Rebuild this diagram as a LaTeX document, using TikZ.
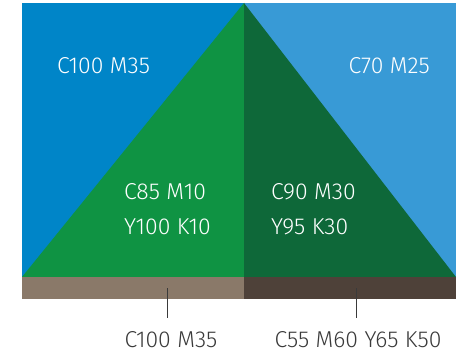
\documentclass[tikz,border=0pt]{standalone}
\usepackage{fontspec}
\setmainfont{Fira Sans}[UprightFont=* Light]
\usetikzlibrary{calc}

\definecolor{skyleft}{HTML}{0085C8}
\definecolor{skyright}{HTML}{389AD6}
\definecolor{hillleft}{HTML}{0F9343}
\definecolor{hillright}{HTML}{0E6839}
\definecolor{soilleft}{HTML}{8A7969}
\definecolor{soilright}{HTML}{4E4139}
\definecolor{capgray}{HTML}{3A3A3A}

\begin{document}
\begin{tikzpicture}[x=1pt,y=-1pt,
    swatch/.style={font=\fontsize{23}{27}\selectfont,text=white,inner sep=0pt},
    caption/.style={swatch,text=capgray}]%
    \useasboundingbox (0,0) rectangle (456,353);%
    % sky
    \fill[skyleft] (22,3) rectangle (244,277);%
    \fill[skyright] (244,3) rectangle (456,277);%
    % hill
    \fill[hillleft] (22,277) -- (244,3) -- (244,277) -- cycle;%
    \fill[hillright] (244,3) -- (456,277) -- (244,277) -- cycle;%
    % ground
    \fill[soilleft] (22,277) rectangle (244,299);%
    \fill[soilright] (244,277) rectangle (456,299);%
    % swatch labels
    \node[swatch,anchor=base west] (skyA) at (57,74) {C100 M35};%
    \node[swatch,anchor=base east] (skyB) at (430,74) {C70 M25};%
    \node[swatch,anchor=base west] (hillA1) at (124,200) {C85 M10};%
    \node[swatch,anchor=base west] (hillA2) at (124,234) {Y100 K10};%
    \node[swatch,anchor=base west] (hillB1) at (271,200) {C90 M30};%
    \node[swatch,anchor=base west] (hillB2) at (271,234) {Y95 K30};%
    % ground captions
    \coordinate (tickA) at (167,288);%
    \coordinate (tickAend) at (167,318);%
    \coordinate (tickB) at (356,288);%
    \coordinate (tickBend) at (356,318);%
    \node[caption,anchor=base] (soilA) at (171,347) {C100 M35};%
    \node[caption,anchor=base] (soilB) at (358,347) {C55 M60 Y65 K50};%
    \draw[capgray,line width=0.9pt] (tickA) -- (tickAend);%
    \draw[capgray,line width=0.9pt] (tickB) -- (tickBend);%
\end{tikzpicture}
\end{document}
